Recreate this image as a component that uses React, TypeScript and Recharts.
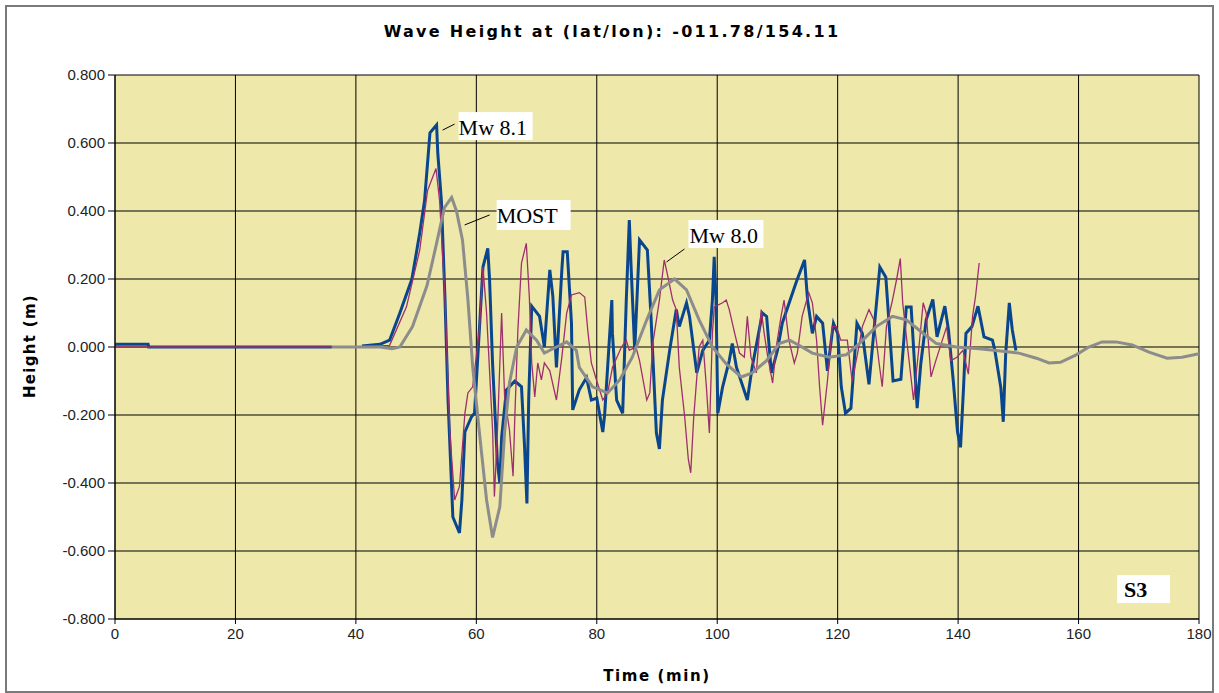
import React from 'react';
import { LineChart, Line, XAxis, YAxis, CartesianGrid, ReferenceDot } from 'recharts';

// ---- Data (time in minutes, height in metres) ----
const mw81Time = [0, 5.5, 5.6, 36, 38, 41, 44, 45.6, 47.3, 49.3, 50.6, 51.4, 52.3, 53.4, 53.6, 54.2, 54.8, 55.3, 56.1, 57.2, 57.6, 58.1, 59.2, 59.7, 60.5, 61.1, 61.9, 62.2, 62.7, 63.5, 63.9, 64.2, 65.0, 66.4, 67.5, 68.0, 68.4, 68.7, 69.2, 70.5, 71.3, 72.2, 72.7, 73.3, 74.2, 74.4, 75.1, 75.8, 76.0, 77.1, 78.3, 79.1, 80.0, 81.0, 81.3, 81.8, 82.5, 82.6, 83.3, 84.3, 84.9, 85.4, 85.7, 86.3, 87.1, 88.4, 89.0, 89.9, 90.4, 90.9, 92.1, 93.2, 93.7, 94.9, 95.4, 96.6, 97.6, 98.7, 99.2, 99.5, 99.8, 100.1, 100.9, 102.0, 102.5, 103.2, 105.0, 105.8, 107.5, 108.2, 109.0, 110.0, 110.8, 113.1, 114.5, 115.0, 115.8, 116.5, 117.5, 118.3, 119.3, 120.0, 120.6, 121.3, 122.2, 123.2, 124.1, 125.2, 127.0, 128.0, 129.2, 130.5, 131.4, 132.2, 133.2, 133.8, 134.7, 135.8, 136.5, 137.8, 138.4, 139.2, 139.9, 140.4, 140.9, 141.3, 142.3, 143.3, 144.3, 145.7, 146.1, 147.1, 147.5, 147.9, 148.5, 149.0, 149.6];
const mw81Height = [0.008, 0.008, 0, 0, null, 0.003, 0.008, 0.02, 0.1, 0.2, 0.335, 0.43, 0.63, 0.653, 0.57, 0.43, 0.14, -0.156, -0.5, -0.547, -0.45, -0.25, -0.205, -0.195, 0.05, 0.235, 0.29, 0.197, -0.05, -0.34, -0.4, -0.265, -0.126, -0.1, -0.117, -0.29, -0.46, -0.15, 0.12, 0.09, 0, 0.227, 0.15, -0.06, 0.227, 0.28, 0.28, 0.07, -0.185, -0.126, -0.09, -0.156, -0.15, -0.25, -0.2, -0.06, 0.138, 0.04, -0.156, -0.195, 0.138, 0.373, 0.235, -0.01, 0.315, 0.285, 0.09, -0.253, -0.3, -0.156, -0.01, 0.11, 0.06, 0.13, 0.09, -0.076, -0.01, 0.02, 0.138, 0.265, 0.138, -0.195, -0.117, -0.04, 0.01, -0.06, -0.156, -0.06, 0.1, 0.09, -0.076, -0.01, 0.07, 0.19, 0.256, 0.138, 0.04, 0.09, 0.07, -0.07, 0.07, 0.04, -0.117, -0.195, -0.18, 0.07, 0.04, -0.11, 0.235, 0.205, -0.1, -0.095, 0.118, 0.118, -0.18, -0.05, 0.08, 0.14, 0.03, 0.12, 0.05, -0.1, -0.25, -0.295, -0.12, 0.04, 0.06, 0.12, 0.03, 0.02, -0.01, -0.12, -0.22, -0.02, 0.13, 0.05, -0.01];

const mw80Time = [0, 36, 38, 41, 45.6, 48.4, 50.6, 51.9, 53.3, 53.9, 54.8, 55.6, 56.4, 57.2, 58.1, 58.6, 59.4, 60.5, 61.1, 61.7, 62.7, 63.0, 63.5, 64.2, 64.7, 65.5, 66.1, 66.4, 66.9, 67.5, 68.3, 68.8, 69.2, 69.7, 70.2, 70.8, 71.3, 72.2, 73.3, 74.2, 75.0, 75.8, 77.1, 78.0, 78.5, 79.1, 80.0, 81.0, 81.8, 82.6, 84.1, 84.9, 85.4, 86.5, 87.1, 88.3, 88.8, 89.3, 90.4, 91.2, 91.7, 92.6, 93.2, 93.7, 94.6, 95.2, 95.6, 96.1, 97.0, 97.6, 98.2, 98.7, 99.2, 99.5, 100.9, 101.5, 102.0, 102.9, 103.7, 104.5, 105.0, 105.6, 106.5, 107.3, 107.8, 108.4, 109.2, 109.8, 110.6, 111.1, 111.9, 112.8, 113.3, 114.1, 115.2, 115.8, 116.5, 117.0, 117.5, 118.3, 119.1, 119.8, 120.5, 121.6, 122.4, 123.4, 124.1, 125.2, 126.0, 126.9, 127.4, 128.1, 129.1, 129.8, 130.4, 130.8, 131.6, 132.6, 133.5, 134.2, 134.7, 135.5, 136.3, 137.2, 138.1, 138.8, 139.8, 140.8, 141.7, 142.4, 142.9, 143.5];
const mw80Height = [0, 0, null, 0, 0.005, 0.118, 0.285, 0.46, 0.525, 0.43, 0.14, -0.25, -0.45, -0.41, -0.195, -0.135, -0.117, 0.05, 0.235, 0.1, -0.244, -0.44, -0.25, 0.1, -0.147, -0.244, -0.38, -0.2, 0.05, 0.247, 0.305, 0.147, -0.047, -0.147, -0.047, -0.097, -0.047, -0.07, -0.156, -0.03, 0.1, 0.153, 0.16, 0.147, 0.05, -0.047, -0.1, -0.156, -0.135, -0.06, 0, 0.02, -0.01, 0, -0.04, -0.156, -0.135, 0.01, 0.138, 0.256, 0.216, 0.138, 0.11, -0.06, -0.206, -0.33, -0.37, -0.206, 0, 0.02, -0.117, -0.253, 0.04, 0.118, 0.13, 0.138, 0.11, 0.04, -0.018, -0.03, 0.09, -0.03, -0.076, 0.11, 0.04, -0.03, -0.106, 0, 0.09, 0.138, 0.02, -0.047, -0.018, 0.09, 0.16, 0.13, 0.02, -0.117, -0.23, -0.1, 0.06, 0.06, 0.02, 0.02, -0.1, -0.01, 0.06, 0.11, 0.08, -0.05, -0.117, 0.06, 0.138, 0.2, 0.26, 0.13, 0, -0.156, 0, 0.13, 0.1, -0.088, -0.04, 0.01, 0.06, -0.04, -0.03, -0.01, -0.08, 0.09, 0.15, 0.247];

const mostTime = [36, 44, 46, 47.3, 49.4, 51.8, 53.4, 54.7, 55.9, 56.7, 57.7, 58.6, 59.4, 60.5, 61.7, 62.7, 63.9, 64.7, 65.5, 66.7, 68.3, 70.0, 71.3, 73.3, 75.0, 76.6, 77.1, 79.3, 81.8, 83.8, 85.9, 88.3, 90.4, 92.9, 94.9, 97.0, 99.2, 101.5, 104.0, 105.8, 108.2, 110.3, 112.0, 113.5, 115.8, 118.6, 121.4, 123.6, 126.4, 129.1, 131.4, 133.5, 136.4, 139.7, 143.5, 146.3, 150.1, 153.0, 155.1, 157.0, 159.6, 161.7, 163.9, 166.2, 168.9, 171.7, 174.7, 177.2, 180];
const mostHeight = [0, 0, -0.005, 0, 0.06, 0.18, 0.305, 0.41, 0.44, 0.4, 0.315, 0.14, -0.06, -0.25, -0.45, -0.56, -0.47, -0.25, -0.106, 0, 0.05, 0.02, -0.018, 0, 0.015, -0.01, -0.06, -0.117, -0.135, -0.097, -0.03, 0.08, 0.168, 0.2, 0.168, 0.08, 0, -0.05, -0.088, -0.076, -0.04, 0.01, 0.02, 0.006, -0.018, -0.03, -0.023, 0.01, 0.06, 0.09, 0.08, 0.05, 0.01, 0, -0.005, -0.01, -0.018, -0.033, -0.047, -0.045, -0.023, 0, 0.015, 0.015, 0.006, -0.015, -0.033, -0.03, -0.02];

const xTicks = [0, 20, 40, 60, 80, 100, 120, 140, 160, 180];
const yTicks = [-0.8, -0.6, -0.4, -0.2, 0, 0.2, 0.4, 0.6, 0.8];

const titleText = 'Wave Height at (lat/lon): -011.78/154.11';
const xTitle = 'Time (min)';
const yTitle = 'Height (m)';

const mw81Data = mw81Time.map((t, i) => ({ t, h: mw81Height[i] }));
const mw80Data = mw80Time.map((t, i) => ({ t, h: mw80Height[i] }));
const mostData = mostTime.map((t, i) => ({ t, h: mostHeight[i] }));

const serif = '"Liberation Serif", "Times New Roman", serif';
const sans = '"DejaVu Sans", Verdana, sans-serif';

function Callout(props: any) {
  const { cx, cy, lx, ly, bx, by, bw, bh, tx, ty, text, bold } = props;
  if (cx == null || cy == null) return null;
  return (
    <g>
      {lx !== undefined && (
        <line x1={cx} y1={cy} x2={cx + lx} y2={cy + ly} stroke="#000" strokeWidth={1} />
      )}
      <rect x={cx + bx} y={cy + by} width={bw} height={bh} fill="#fff" />
      <text x={cx + tx} y={cy + ty} fontFamily={serif} fontSize={22} fontWeight={bold ? 'bold' : 'normal'} fill="#000">
        {text}
      </text>
    </g>
  );
}

export default function App() {
  return (
    <div style={{ position: 'absolute', left: 0, top: 0, width: 1219, height: 693, background: '#fff' }}>
      <div
        style={{
          position: 'absolute', left: 5, top: 5, width: 1209, height: 688,
          border: '2px solid #7a7a7a', boxSizing: 'border-box',
        }}
      />
      <div
        style={{
          position: 'absolute', left: 0, top: 22, width: 1224, textAlign: 'center',
          fontFamily: sans, fontWeight: 'bold', fontSize: 16, letterSpacing: 2.3, color: '#000',
        }}
      >
        {titleText}
      </div>
      <div
        style={{
          position: 'absolute', left: 0, top: 667, width: 1314, textAlign: 'center',
          fontFamily: sans, fontWeight: 'bold', fontSize: 15, letterSpacing: 1.6, color: '#000',
        }}
      >
        {xTitle}
      </div>
      <div
        style={{
          position: 'absolute', left: -30, top: 337, width: 120, textAlign: 'center',
          transform: 'rotate(-90deg)',
          fontFamily: sans, fontWeight: 'bold', fontSize: 15, letterSpacing: 1.3, color: '#000',
        }}
      >
        {yTitle}
      </div>
      <div style={{ position: 'absolute', left: 0, top: 0 }}>
        <LineChart width={1219} height={693} margin={{ top: 75, right: 20, bottom: 0, left: 0 }}>
          <CartesianGrid stroke="#000" strokeWidth={1} fill="#EEE8AA" fillOpacity={1} horizontalValues={yTicks} verticalValues={xTicks} />
          <XAxis
            dataKey="t"
            type="number"
            domain={[0, 180]}
            ticks={xTicks}
            allowDataOverflow
            height={74}
            stroke="#000"
            tickSize={5}
            tickMargin={4}
            tick={{ fontFamily: '"Liberation Sans", Arial, sans-serif', fontSize: 15, fill: '#222' }}
          />
          <YAxis
            type="number"
            domain={[-0.8, 0.8]}
            ticks={yTicks}
            allowDataOverflow
            width={115}
            stroke="#000"
            tickSize={7}
            tickMargin={3}
            tickFormatter={(v: number) => v.toFixed(3)}
            tick={{ fontFamily: '"Liberation Sans", Arial, sans-serif', fontSize: 15, fill: '#222' }}
          />
          <Line data={mw81Data} dataKey="h" type="linear" stroke="#0A468E" strokeWidth={3} dot={false} isAnimationActive={false} connectNulls={false} />
          <Line data={mw80Data} dataKey="h" type="linear" stroke="#9E2F6E" strokeWidth={1.3} dot={false} isAnimationActive={false} connectNulls={false} />
          <Line data={mostData} dataKey="h" type="linear" stroke="#8C8C8C" strokeWidth={3} dot={false} isAnimationActive={false} />
          <ReferenceDot x={54.4} y={0.638} r={0} shape={(p: any) => (
            <Callout cx={p.cx} cy={p.cy} lx={12} ly={-6} bx={16} by={-18} bw={74} bh={28} tx={16} ty={5} text="Mw 8.1" />
          )} />
          <ReferenceDot x={58.06} y={0.359} r={0} shape={(p: any) => (
            <Callout cx={p.cx} cy={p.cy} lx={25} ly={-10} bx={32} by={-25} bw={74} bh={30} tx={32} ty={-2} text="MOST" />
          )} />
          <ReferenceDot x={91.57} y={0.25} r={0} shape={(p: any) => (
            <Callout cx={p.cx} cy={p.cy} lx={18} ly={-13} bx={22} by={-42} bw={75} bh={28} tx={23} ty={-19} text="Mw 8.0" />
          )} />
          <ReferenceDot x={166.4} y={-0.671} r={0} shape={(p: any) => (
            <Callout cx={p.cx} cy={p.cy} bx={0} by={0} bw={53} bh={28} tx={7} ty={22} text="S3" bold />
          )} />
        </LineChart>
      </div>
    </div>
  );
}
